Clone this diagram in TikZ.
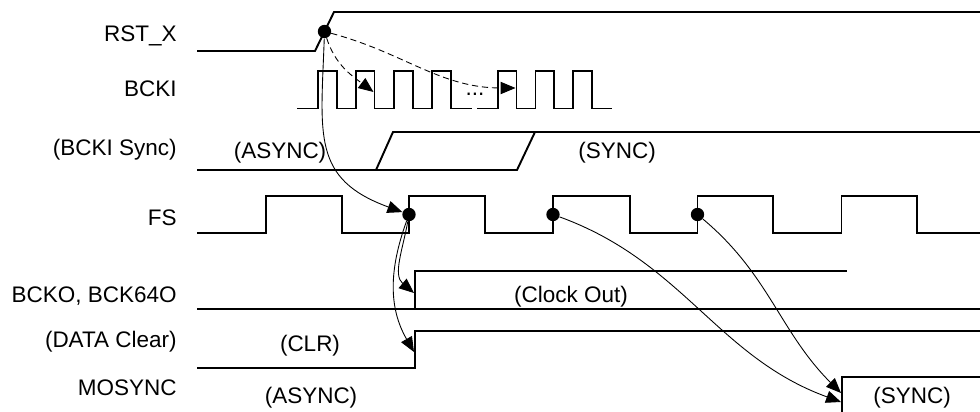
\documentclass[tikz,border=0pt]{standalone}
\usepackage{fontspec}
\setmainfont{Liberation Sans}
\usetikzlibrary{arrows.meta}

\begin{document}
\begin{tikzpicture}[scale=0.2,
  sig/.style={line width=1.1pt},
  arr/.style={line width=0.5pt, -{Triangle[length=8.5pt,width=7pt]}},
  dasharr/.style={arr, dash pattern=on 3.5pt off 2.2pt},
  dot/.style={circle, fill=black, minimum size=7.6pt},
  lbl/.style={anchor=base east},
  txt/.style={anchor=base}]
\tikzstyle{every node}+=[inner sep=0pt, font=\fontsize{12.8}{15}\selectfont]
\useasboundingbox (0,0) rectangle (98,-41.2);
% signal names
\node [lbl] (lrst) at (17.7,-4.17) {RST\_X};
\node [lbl] (lbcki) at (17.7,-9.7) {BCKI};
\node [lbl] (lsync) at (17.7,-15.5) {(BCKI Sync)};
\node [lbl] (lfs) at (17.7,-22.5) {FS};
\node [lbl] (lbcko) at (17.7,-30.2) {BCKO, BCK64O};
\node [lbl] (ldata) at (17.7,-34.7) {(DATA Clear)};
\node [lbl] (lmosync) at (17.7,-39.5) {MOSYNC};
% RST_X
\draw [sig] (19.7,-5.1) -- (31.5,-5.1) -- (33.4,-1.2) -- (98,-1.2);
\node [dot] (rst) at (32.45,-3.15) {};
% BCKI
\draw [sig] (29.7,-10.85) -- (31.8,-10.85) -- (31.8,-7.1) -- (33.7,-7.1) -- (33.7,-10.85)
  -- (35.6,-10.85) -- (35.6,-7.1) -- (37.45,-7.1) -- (37.45,-10.85)
  -- (39.4,-10.85) -- (39.4,-7.1) -- (41.3,-7.1) -- (41.3,-10.85)
  -- (43.2,-10.85) -- (43.2,-7.1) -- (45.1,-7.1) -- (45.1,-10.85) -- (47.2,-10.85);
\draw [sig] (47.7,-10.85) -- (49.8,-10.85) -- (49.8,-7.1) -- (51.65,-7.1) -- (51.65,-10.85)
  -- (53.55,-10.85) -- (53.55,-7.1) -- (55.4,-7.1) -- (55.4,-10.85)
  -- (57.3,-10.85) -- (57.3,-7.1) -- (59.2,-7.1) -- (59.2,-10.85) -- (61.2,-10.85);
\node [txt] (gap) at (47.5,-9.6) {...};
\coordinate (tb1) at (37.35,-9.2);
\coordinate (tb2) at (51.55,-8.8);
% (BCKI Sync)
\draw [sig] (19.7,-17) -- (51.7,-17) -- (53.5,-13.2);
\draw [sig] (37.6,-17) -- (39.3,-13.2) -- (98,-13.2);
\node [txt] (async1) at (28.0,-15.9) {(ASYNC)};
\node [txt] (sync1) at (61.7,-15.9) {(SYNC)};
% FS
\draw [sig] (19.7,-23.3) -- (26.6,-23.3) -- (26.6,-19.6) -- (34.2,-19.6) -- (34.2,-23.3)
  -- (40.9,-23.3) -- (40.9,-19.6) -- (48.5,-19.6) -- (48.5,-23.3)
  -- (55.3,-23.3) -- (55.3,-19.6) -- (63.0,-19.6) -- (63.0,-23.3)
  -- (69.75,-23.3) -- (69.75,-19.6) -- (77.3,-19.6) -- (77.3,-23.3)
  -- (84.15,-23.3) -- (84.15,-19.6) -- (91.7,-19.6) -- (91.7,-23.3) -- (98,-23.3);
\node [dot] (fs1) at (40.9,-21.45) {};
\node [dot] (fs2) at (55.3,-21.45) {};
\node [dot] (fs3) at (69.75,-21.45) {};
% BCKO, BCK64O
\draw [sig] (19.7,-30.9) -- (98,-30.9);
\draw [sig] (41.5,-30.9) -- (41.5,-27.1) -- (84.7,-27.1);
\node [txt] (clock) at (57.1,-30.2) {(Clock Out)};
\coordinate (tbcko) at (41.4,-29.3);
% (DATA Clear)
\draw [sig] (19.7,-36.8) -- (41.5,-36.8) -- (41.5,-33.1) -- (98,-33.1);
\node [txt] (clr) at (31.0,-35.1) {(CLR)};
\coordinate (tdata) at (41.4,-35.2);
% MOSYNC
\draw [sig] (84.2,-41.2) -- (84.2,-37.7) -- (98,-37.7);
\node [txt] (async2) at (31.1,-40.3) {(ASYNC)};
\node [txt] (sync2) at (91.2,-40.3) {(SYNC)};
\coordinate (tmo1) at (84.1,-39.3);
\coordinate (tmo2) at (84.1,-40.2);
% causes
\draw [dasharr] (rst) to[out=-72,in=143] (tb1);
\draw [dasharr] (rst) to[out=-15,in=180] (tb2);
\draw [arr] (rst) to[out=-92,in=160,looseness=1.3] (fs1);
\draw [arr] (fs1) to[out=-100,in=140] (tbcko);
\draw [arr] (fs1) to[out=-110,in=120] (tdata);
\draw [arr] (fs2) to[out=-20,in=160] (tmo2);
\draw [arr] (fs3) to[out=-40,in=135] (tmo1);
\end{tikzpicture}
\end{document}
